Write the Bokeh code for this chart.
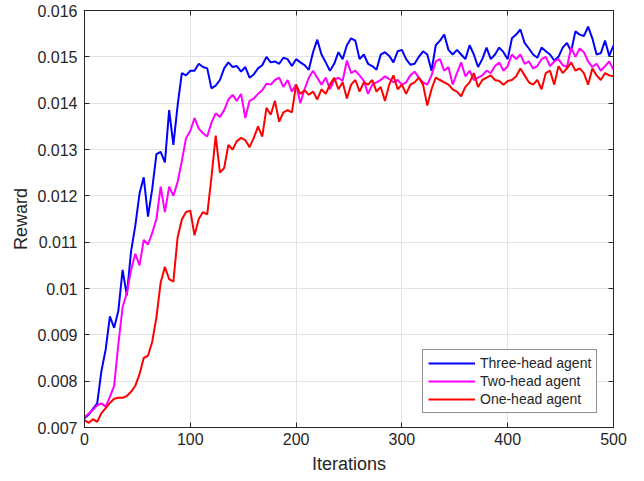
from bokeh.plotting import figure
from bokeh.models import Range1d, FixedTicker, CustomJSTickFormatter, LinearAxis, Legend, LegendItem
from bokeh.embed import file_html
from bokeh.resources import INLINE

iterations = list(range(0, 501, 4))

three_head = [
    0.00720, 0.00728, 0.00740, 0.00752, 0.00822, 0.00868, 0.00940, 0.00915, 0.00952, 0.01040,
    0.00985, 0.01080, 0.01135, 0.01205, 0.01240, 0.01155, 0.01215, 0.01290, 0.01295, 0.01272,
    0.01385, 0.01310, 0.01395, 0.01465, 0.01460, 0.01470, 0.01470, 0.01485, 0.01478, 0.01475,
    0.01432, 0.01438, 0.01450, 0.01475, 0.01488, 0.01478, 0.01480, 0.01468, 0.01478, 0.01455,
    0.01462, 0.01475, 0.01482, 0.01500, 0.01488, 0.01490, 0.01485, 0.01498, 0.01495, 0.01480,
    0.01495, 0.01488, 0.01482, 0.01472, 0.01510, 0.01537, 0.01505, 0.01488, 0.01470, 0.01485,
    0.01510, 0.01495, 0.01525, 0.01540, 0.01535, 0.01495, 0.01505, 0.01485, 0.01480, 0.01472,
    0.01505, 0.01510, 0.01502, 0.01488, 0.01512, 0.01515, 0.01495, 0.01483, 0.01485, 0.01500,
    0.01512, 0.01505, 0.01470, 0.01525, 0.01535, 0.01548, 0.01515, 0.01505, 0.01515, 0.01505,
    0.01495, 0.01525, 0.01505, 0.01478, 0.01495, 0.01520, 0.01495, 0.01505, 0.01520, 0.01510,
    0.01495, 0.01540, 0.01548, 0.01559, 0.01530, 0.01518, 0.01505, 0.01498, 0.01520, 0.01512,
    0.01505, 0.01492, 0.01500, 0.01520, 0.01530, 0.01512, 0.01555, 0.01548, 0.01545, 0.01565,
    0.01540, 0.01505, 0.01508, 0.01535, 0.01502, 0.01525,
]

two_head = [
    0.00722, 0.00730, 0.00738, 0.00748, 0.00752, 0.00745, 0.00766, 0.00790, 0.00880, 0.00960,
    0.00990, 0.01040, 0.01075, 0.01050, 0.01105, 0.01095, 0.01120, 0.01150, 0.01220, 0.01165,
    0.01220, 0.01200, 0.01230, 0.01275, 0.01325, 0.01340, 0.01368, 0.01345, 0.01335, 0.01328,
    0.01358, 0.01378, 0.01370, 0.01385, 0.01408, 0.01418, 0.01405, 0.01420, 0.01368, 0.01405,
    0.01410, 0.01420, 0.01428, 0.01442, 0.01440, 0.01450, 0.01455, 0.01435, 0.01450, 0.01425,
    0.01440, 0.01400, 0.01430, 0.01455, 0.01470, 0.01455, 0.01440, 0.01455, 0.01430, 0.01450,
    0.01455, 0.01448, 0.01492, 0.01465, 0.01470, 0.01460, 0.01448, 0.01420, 0.01440, 0.01445,
    0.01450, 0.01458, 0.01452, 0.01445, 0.01450, 0.01440, 0.01445, 0.01460, 0.01468, 0.01455,
    0.01445, 0.01440, 0.01460, 0.01490, 0.01495, 0.01470, 0.01478, 0.01440, 0.01465, 0.01488,
    0.01458, 0.01470, 0.01450, 0.01455, 0.01460, 0.01470, 0.01465, 0.01480, 0.01488, 0.01470,
    0.01480, 0.01505, 0.01495, 0.01505, 0.01485, 0.01490, 0.01475, 0.01480, 0.01495, 0.01500,
    0.01480, 0.01490, 0.01495, 0.01482, 0.01478, 0.01520, 0.01500, 0.01518, 0.01510, 0.01490,
    0.01478, 0.01485, 0.01470, 0.01480, 0.01490, 0.01472,
]

one_head = [
    0.00716, 0.00710, 0.00718, 0.00712, 0.00731, 0.00742, 0.00753, 0.00762, 0.00764, 0.00764,
    0.00768, 0.00777, 0.00790, 0.00815, 0.00850, 0.00855, 0.00885, 0.00938, 0.01013, 0.01047,
    0.01020, 0.01015, 0.01110, 0.01149, 0.01165, 0.01168, 0.01115, 0.01150, 0.01165, 0.01160,
    0.01240, 0.01330, 0.01250, 0.01260, 0.01310, 0.01300, 0.01318, 0.01325, 0.01320, 0.01305,
    0.01325, 0.01350, 0.01328, 0.01390, 0.01375, 0.01405, 0.01360, 0.01380, 0.01385, 0.01380,
    0.01440, 0.01420, 0.01428, 0.01418, 0.01425, 0.01408, 0.01430, 0.01420, 0.01440, 0.01455,
    0.01430, 0.01445, 0.01410, 0.01440, 0.01450, 0.01425, 0.01445, 0.01440, 0.01450, 0.01425,
    0.01435, 0.01405, 0.01440, 0.01460, 0.01430, 0.01440, 0.01420, 0.01440, 0.01445, 0.01455,
    0.01440, 0.01395, 0.01430, 0.01455, 0.01450, 0.01445, 0.01440, 0.01430, 0.01425, 0.01415,
    0.01435, 0.01445, 0.01465, 0.01435, 0.01450, 0.01455, 0.01460, 0.01450, 0.01448, 0.01440,
    0.01448, 0.01450, 0.01458, 0.01475, 0.01460, 0.01445, 0.01440, 0.01450, 0.01430, 0.01465,
    0.01470, 0.01440, 0.01480, 0.01465, 0.01475, 0.01488, 0.01470, 0.01475, 0.01465, 0.01440,
    0.01475, 0.01460, 0.01450, 0.01465, 0.01460, 0.01458,
]

series_names = ["Three-head agent", "Two-head agent", "One-head agent"]
series_colors = ["#0000FF", "#FF00FF", "#FF0000"]

x_ticks = [0, 100, 200, 300, 400, 500]
x_tick_labels = ["0", "100", "200", "300", "400", "500"]
y_ticks = [0.007, 0.008, 0.009, 0.010, 0.011, 0.012, 0.013, 0.014, 0.015, 0.016]
y_tick_labels = ["0.007", "0.008", "0.009", "0.01", "0.011", "0.012", "0.013", "0.014", "0.015", "0.016"]

FONT = "Liberation Sans"
AXIS_COLOR = "#262626"

p = figure(
    width=644, height=480,
    x_range=Range1d(0, 500), y_range=Range1d(0.007, 0.016),
    output_backend="svg", toolbar_location=None,
    min_border_left=84, min_border_right=31, min_border_top=10, min_border_bottom=53,
)
p.background_fill_color = "white"
p.border_fill_color = "white"
p.outline_line_color = AXIS_COLOR
p.outline_line_width = 1

def lookup_formatter(tick_values, tick_texts):
    return CustomJSTickFormatter(
        args=dict(tv=tick_values, tl=tick_texts),
        code="const i = tv.findIndex(t => Math.abs(t - tick) < 1e-9); return i >= 0 ? tl[i] : '';",
    )

def blank_formatter():
    return CustomJSTickFormatter(code="return '';")

def style_axis(ax):
    ax.axis_line_color = AXIS_COLOR
    ax.major_tick_line_color = AXIS_COLOR
    ax.major_tick_in = 5
    ax.major_tick_out = 0
    ax.minor_tick_line_color = None
    ax.major_label_text_font = FONT
    ax.major_label_text_font_size = "16px"
    ax.major_label_text_color = AXIS_COLOR
    ax.axis_label_text_font = FONT
    ax.axis_label_text_font_size = "18px"
    ax.axis_label_text_font_style = "normal"
    ax.axis_label_text_color = AXIS_COLOR

xa = p.xaxis[0]
xa.ticker = FixedTicker(ticks=x_ticks)
xa.formatter = lookup_formatter(x_ticks, x_tick_labels)
xa.axis_label = "Iterations"
style_axis(xa)
xa.major_label_standoff = 5
xa.axis_label_standoff = 6

ya = p.yaxis[0]
ya.ticker = FixedTicker(ticks=y_ticks)
ya.formatter = lookup_formatter(y_ticks, y_tick_labels)
ya.axis_label = "Reward"
style_axis(ya)
ya.major_label_standoff = 7
ya.axis_label_standoff = 3

top = LinearAxis(ticker=FixedTicker(ticks=x_ticks), formatter=blank_formatter())
style_axis(top)
top.major_label_standoff = 0
p.add_layout(top, "above")
right = LinearAxis(ticker=FixedTicker(ticks=y_ticks), formatter=blank_formatter())
style_axis(right)
right.major_label_standoff = 0
p.add_layout(right, "right")

p.xgrid.ticker = FixedTicker(ticks=x_ticks)
p.ygrid.ticker = FixedTicker(ticks=y_ticks)
p.grid.grid_line_color = "#e3e3e3"
p.grid.grid_line_width = 1

items = []
for name, color, ys in zip(series_names, series_colors, [three_head, two_head, one_head]):
    r = p.line(iterations, ys, line_color=color, line_width=2)
    items.append(LegendItem(label=name, renderers=[r]))

legend = Legend(items=items, location=(338, 14))
legend.label_text_font = FONT
legend.label_text_font_size = "14px"
legend.label_text_color = AXIS_COLOR
legend.border_line_color = AXIS_COLOR
legend.border_line_width = 1
legend.background_fill_color = "white"
legend.background_fill_alpha = 1
legend.glyph_width = 47
legend.glyph_height = 16
legend.label_height = 16
legend.label_standoff = 5
legend.spacing = 2
legend.padding = 5
legend.margin = 0
p.add_layout(legend)

open("out.html", "w").write(file_html(p, INLINE))
